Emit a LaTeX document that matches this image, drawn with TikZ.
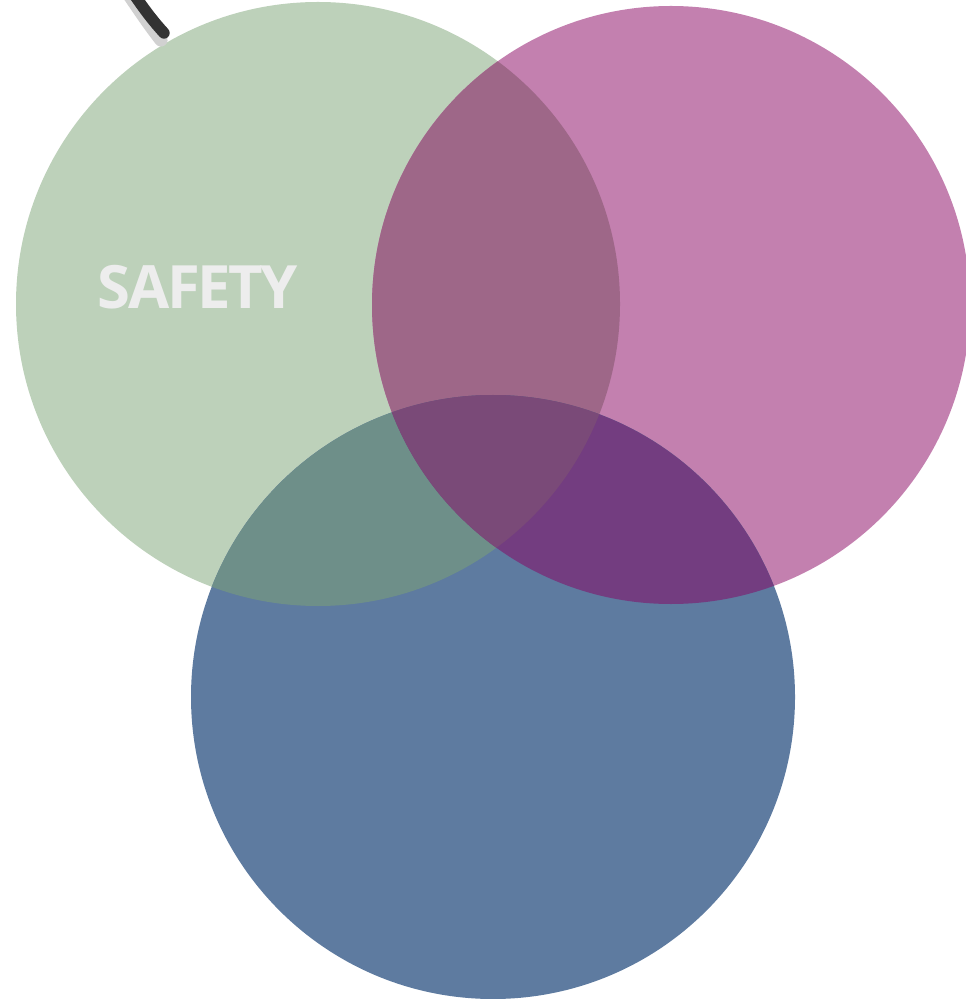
\documentclass[tikz,border=0pt]{standalone}
\usepackage{fontspec}
\setmainfont{Open Sans}
\usepackage{xcolor}
\usetikzlibrary{positioning}

\definecolor{safegreen}{HTML}{BDD1BA}
\definecolor{pinkc}{HTML}{C380AF}
\definecolor{bluec}{HTML}{5E7BA0}
\definecolor{gpmix}{HTML}{9E6788}
\definecolor{gbmix}{HTML}{6E8F89}
\definecolor{pbmix}{HTML}{733D80}
\definecolor{allmix}{HTML}{7A4A78}
\definecolor{txtgrey}{HTML}{EDEDED}

\begin{document}
\begin{tikzpicture}[
    x=0.02cm, y=-0.02cm,
    lbl/.style={font=\fontsize{34}{36}\selectfont\bfseries\addfontfeature{LetterSpace=-4}, text=txtgrey, inner sep=0pt},
    stroke/.style={line width=#1, line cap=round}
]
\useasboundingbox (0,0) rectangle (965,999);

% circle centres
\coordinate (g) at (318,304);
\coordinate (p) at (671,305);
\coordinate (b) at (493,697);
\def\rad{302}
\def\prad{299}

% base circles
\fill[safegreen] (g) circle (\rad);
\fill[pinkc] (p) circle (\prad);
\fill[bluec] (b) circle (\rad);

% pairwise overlaps
\begin{scope}
  \clip (g) circle (\rad);
  \fill[gpmix] (p) circle (\prad);
  \fill[gbmix] (b) circle (\rad);
\end{scope}
\begin{scope}
  \clip (p) circle (\prad);
  \fill[pbmix] (b) circle (\rad);
\end{scope}

% centre overlap
\begin{scope}
  \clip (g) circle (\rad);
  \clip (p) circle (\prad);
  \fill[allmix] (b) circle (\rad);
\end{scope}

% pen stroke at top left
\draw[stroke=7.5pt, black!18] (127,-8) .. controls (142,14) and (150,26) .. (161,40);
\draw[stroke=6.5pt, black!80] (131,-10) .. controls (146,12) and (154,22) .. (164,33);

\node[lbl] (safety) at (198,287) {SAFETY};

\end{tikzpicture}
\end{document}
